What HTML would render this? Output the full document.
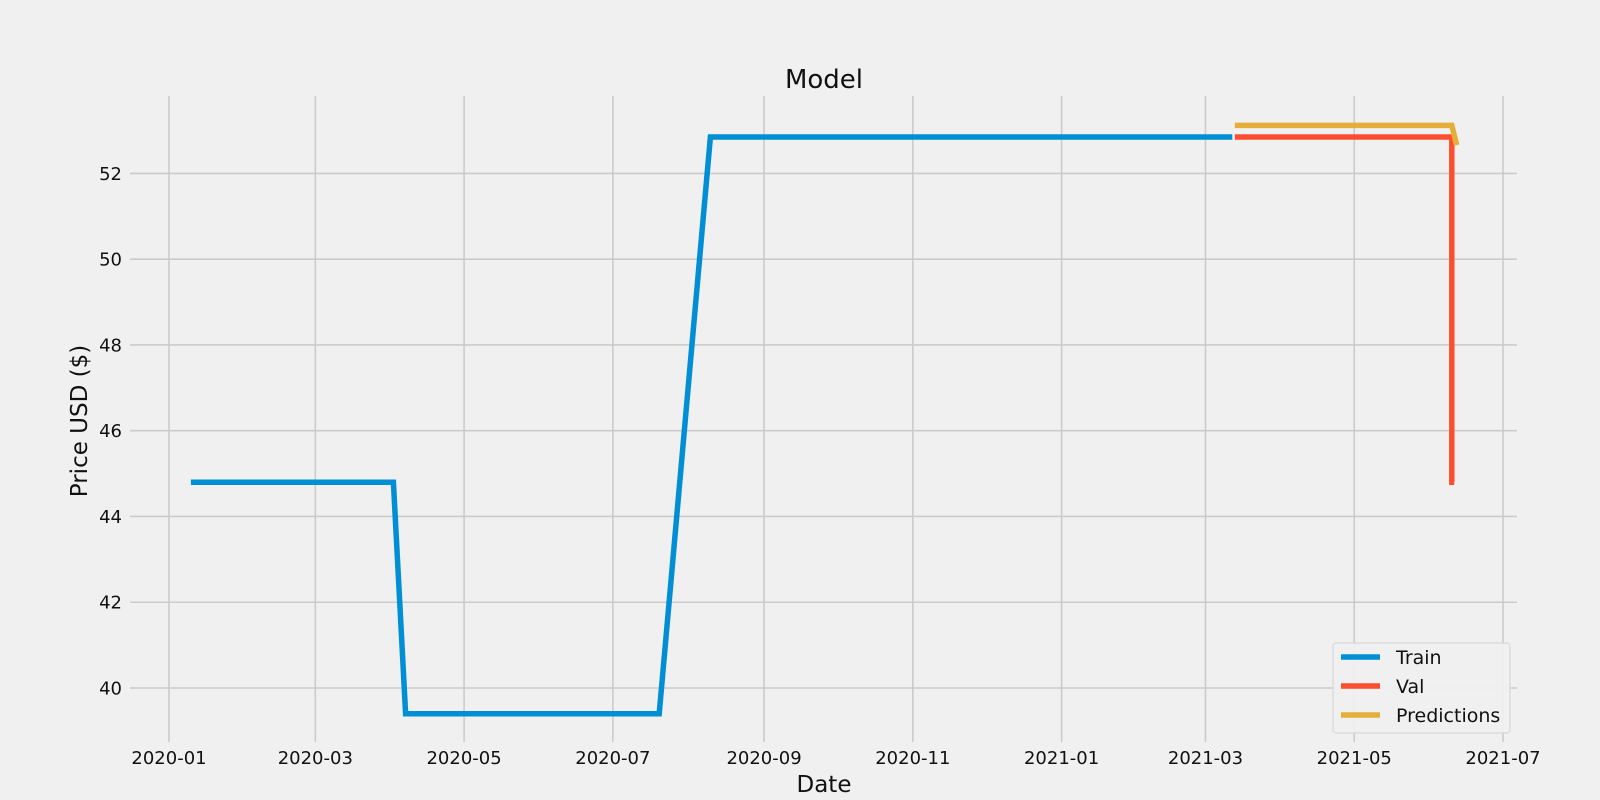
<!DOCTYPE html>
<html><head><meta charset="utf-8"><style>
html,body{margin:0;padding:0;background:#f0f0f0;}
svg{display:block;font-family:"DejaVu Sans","Liberation Sans",sans-serif;}
</style></head><body>
<svg id="chart" width="1600" height="800" viewBox="0 0 1600 800">
<rect x="0" y="0" width="1600" height="800" fill="#f0f0f0"/>
<g id="grid"></g>
<g id="series"></g>
<g id="axes"></g>
<text x="824" y="88" font-size="26" text-anchor="middle" fill="#111">Model</text>
<text x="824" y="792" font-size="23" text-anchor="middle" fill="#111">Date</text>
<text transform="translate(87,421) rotate(-90)" font-size="23" text-anchor="middle" fill="#111">Price USD ($)</text>
<g id="legend"></g>
</svg>
<script>
const xTickLabels = ["2020-01","2020-03","2020-05","2020-07","2020-09","2020-11","2021-01","2021-03","2021-05","2021-07"];
const xTickDates = ["2020-01-01","2020-03-01","2020-05-01","2020-07-01","2020-09-01","2020-11-01","2021-01-01","2021-03-01","2021-05-01","2021-07-01"];
const yTicks = [40,42,44,46,48,50,52];
const trainDates = ["2020-01-10","2020-04-02","2020-04-07","2020-07-20","2020-08-10","2021-03-12"];
const trainValues = [44.8,44.8,39.4,39.4,52.85,52.85];
const valDates = ["2021-03-13","2021-06-10","2021-06-10","2021-06-11"];
const valValues = [52.85,52.85,44.8,44.8];
const predDates = ["2021-03-13","2021-06-10","2021-06-12"];
const predValues = [53.12,53.12,52.66];
const seriesNames = ["Train","Val","Predictions"];

const NS="http://www.w3.org/2000/svg";
const L=128,R=1520,T=96,B=744;
const X0=Date.UTC(2020,0,1), PXD=2.4388;
function xs(d){const t=Date.parse(d+"T00:00:00Z");return 169+(t-X0)/86400000*PXD;}
function ys(v){return 688-(v-40)*42.88;}
function mk(tag,attrs,parent){const e=document.createElementNS(NS,tag);for(const k in attrs)e.setAttribute(k,attrs[k]);parent.appendChild(e);return e;}
const grid=document.getElementById('grid'),axes=document.getElementById('axes'),series=document.getElementById('series'),legend=document.getElementById('legend');
xTickDates.forEach((d,i)=>{
  const x=xs(d);
  const g=mk('line',{x1:x,x2:x,y1:T,y2:B-2,stroke:'#cbcbcb','stroke-width':1.6},grid);
  
  
  const t=mk('text',{x:x,y:764,'font-size':18,'text-anchor':'middle',fill:'#111'},axes);
  t.textContent=xTickLabels[i];
  
  
});
yTicks.forEach(v=>{
  const y=ys(v);
  const g=mk('line',{x1:L+2,x2:R-3,y1:y,y2:y,stroke:'#cbcbcb','stroke-width':1.6},grid);
  
  
  const t=mk('text',{x:122,y:y+6.5,'font-size':18,'text-anchor':'end',fill:'#111'},axes);
  t.textContent=String(v);
  
  
});
const colors=['#008fd5','#fc4f30','#e5ae38'];
[[trainDates,trainValues],[valDates,valValues],[predDates,predValues]].forEach((s,i)=>{
  const pts=s[0].map((d,j)=>xs(d).toFixed(1)+','+ys(s[1][j]).toFixed(1)).join(' ');
  const p=mk('polyline',{points:pts,fill:'none',stroke:colors[i],'stroke-width':5.5,'stroke-linejoin':'miter'},series);
  
  
});
const box=mk('rect',{x:1333,y:643,width:177,height:90,rx:3,fill:'#f0f0f0',stroke:'#d6d6d6','stroke-width':1.2,opacity:0.95},legend);


seriesNames.forEach((n,i)=>{
  const y=657+i*29;
  const l=mk('line',{x1:1341,x2:1380,y1:y,y2:y,stroke:colors[i],'stroke-width':5.5},legend);
  
  
  const t=mk('text',{x:1396,y:y+7,'font-size':19,fill:'#111'},legend);
  t.textContent=n;
  
  
});
</script>
</body></html>
